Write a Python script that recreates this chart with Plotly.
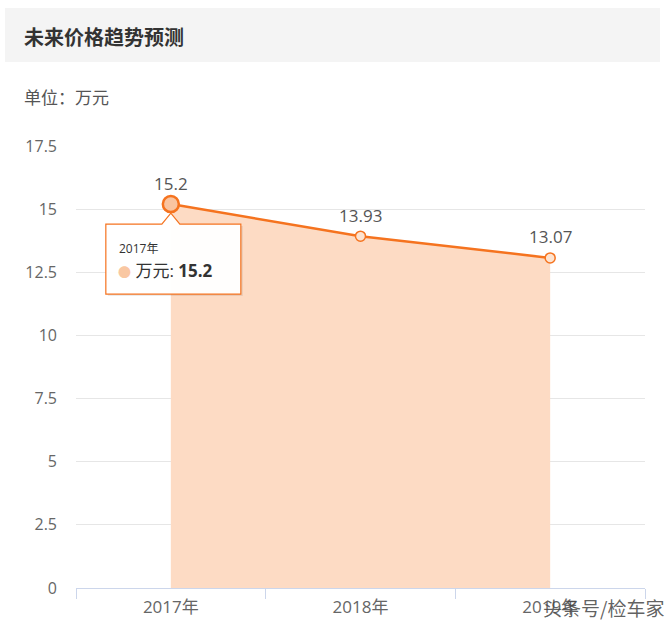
import plotly.graph_objects as go

categories = ["2017年", "2018年", "2019年"]
values = [15.2, 13.93, 13.07]
value_labels = ["15.2", "13.93", "13.07"]
y_ticks = [0, 2.5, 5, 7.5, 10, 12.5, 15, 17.5]
y_tick_text = ["0", "2.5", "5", "7.5", "10", "12.5", "15", "17.5"]
title_text = "未来价格趋势预测"
unit_text = "单位：万元"
series_name = "万元"
watermark = "头条号/检车家"

W, H = 670, 631
L, R, T, B = 76, 25, 146, 43
PW, PH = W - L - R, H - T - B
YMAX = 17.5

FONT = "Open Sans, Noto Sans CJK SC"
CJK = "Noto Sans CJK SC"
ORANGE = "#F5731F"
FILL = "#FDDBC4"


def px(x, y):
    return (x - L) / PW, (H - B - y) / PH


def data_px(i, v):
    x = L + (i + 0.5) / len(categories) * PW
    y = H - B - v / YMAX * PH
    return x, y


fig = go.Figure()
fig.add_trace(go.Scatter(
    x=categories, y=values, mode="lines+markers",
    fill="tozeroy", fillcolor=FILL,
    line=dict(color=ORANGE, width=2.5),
    marker=dict(size=10, color="#FDE3D0", line=dict(color=ORANGE, width=1.5)),
    hoverinfo="skip", showlegend=False, cliponaxis=False,
))
# hover highlight on first point
fig.add_trace(go.Scatter(
    x=categories[:1], y=values[:1], mode="markers",
    marker=dict(size=16, color="#F9C4A0", line=dict(color=ORANGE, width=2.5)),
    hoverinfo="skip", showlegend=False, cliponaxis=False,
))

shapes = []
# title bar
x0, y0 = px(5, 8)
x1, y1 = px(660, 62)
shapes.append(dict(type="rect", xref="paper", yref="paper", x0=x0, y0=y1, x1=x1, y1=y0,
                   fillcolor="#F4F4F4", line=dict(width=0), layer="below"))

# tooltip box with arrow, anchored on first point
ax_, ay_ = data_px(0, values[0])
bx0, bx1 = ax_ - 65, ax_ + 70
by0, by1 = ay_ + 20, ay_ + 90
pts = [(bx0, by0), (ax_ - 9, by0), (ax_, ay_ + 9), (ax_ + 9, by0), (bx1, by0), (bx1, by1), (bx0, by1)]
spts = [(x + 2, y + 2) for x, y in pts]


def path_of(p):
    s = ""
    for k, (x, y) in enumerate(p):
        fx, fy = px(x, y)
        s += ("M" if k == 0 else "L") + f"{fx:.5f},{fy:.5f} "
    return s + "Z"


shapes.append(dict(type="path", xref="paper", yref="paper", path=path_of(spts),
                   fillcolor="rgba(0,0,0,0.08)", line=dict(width=0)))
shapes.append(dict(type="path", xref="paper", yref="paper", path=path_of(pts),
                   fillcolor="rgba(255,255,255,0.97)", line=dict(color=ORANGE, width=1.2)))
fig.update_layout(shapes=shapes)

ann = []
# data labels
for c, v, t in zip(categories, values, value_labels):
    ann.append(dict(x=c, y=v, xref="x", yref="y", text=t, showarrow=False,
                    yshift=21, font=dict(family=FONT, size=17, color="#555555")))
tx, ty = px(22, 36)
ann.append(dict(xref="paper", yref="paper", x=tx, y=ty, xanchor="left", yanchor="middle",
                text=f"<b>{title_text}</b>", showarrow=False,
                font=dict(family=CJK, size=20, color="#333333")))
tx, ty = px(22, 97)
ann.append(dict(xref="paper", yref="paper", x=tx, y=ty, xanchor="left", yanchor="middle",
                text=unit_text, showarrow=False,
                font=dict(family=CJK, size=17, color="#555555")))
tx, ty = px(bx0 + 11, ay_ + 44)
ann.append(dict(xref="paper", yref="paper", x=tx, y=ty, xanchor="left", yanchor="middle",
                text=categories[0], showarrow=False,
                font=dict(family=FONT, size=12, color="#333333")))
tx, ty = px(bx0 + 10, ay_ + 66)
ann.append(dict(xref="paper", yref="paper", x=tx, y=ty, xanchor="left", yanchor="middle",
                text=f"<span style='color:#F9C7A2;font-size:13px'>●</span> {series_name}: <b>{value_labels[0]}</b>",
                showarrow=False, font=dict(family=FONT, size=17, color="#333333")))
tx, ty = px(603, 607)
ann.append(dict(xref="paper", yref="paper", x=tx, y=ty, xanchor="center", yanchor="middle",
                text=watermark, showarrow=False,
                font=dict(family=CJK, size=19, color="rgba(70,70,70,0.85)")))
fig.update_layout(annotations=ann)

fig.update_layout(
    width=W, height=H,
    margin=dict(l=L, r=R, t=T, b=B, pad=0),
    paper_bgcolor="white", plot_bgcolor="white",
    font=dict(family=FONT, color="#666666"),
    xaxis=dict(type="category", range=[-0.5, 2.5], tickson="boundaries",
               ticks="outside", ticklen=10, tickcolor="#CCD6EB", tickwidth=1,
               showline=True, linecolor="#CCD6EB", linewidth=1,
               showgrid=False, zeroline=False, ticklabelstandoff=4,
               tickfont=dict(family=FONT, size=17, color="#666666"), fixedrange=True),
    yaxis=dict(range=[0, YMAX], tickvals=y_ticks, ticktext=y_tick_text,
               showgrid=True, gridcolor="#E6E6E6", gridwidth=1,
               zeroline=False, showline=False, ticks="",
               ticklabelstandoff=18,
               tickfont=dict(family=FONT, size=16, color="#666666"), fixedrange=True),
)

fig.write_html("out.html", config={"displayModeBar": False},
               post_script="document.body.style.margin='0';")
